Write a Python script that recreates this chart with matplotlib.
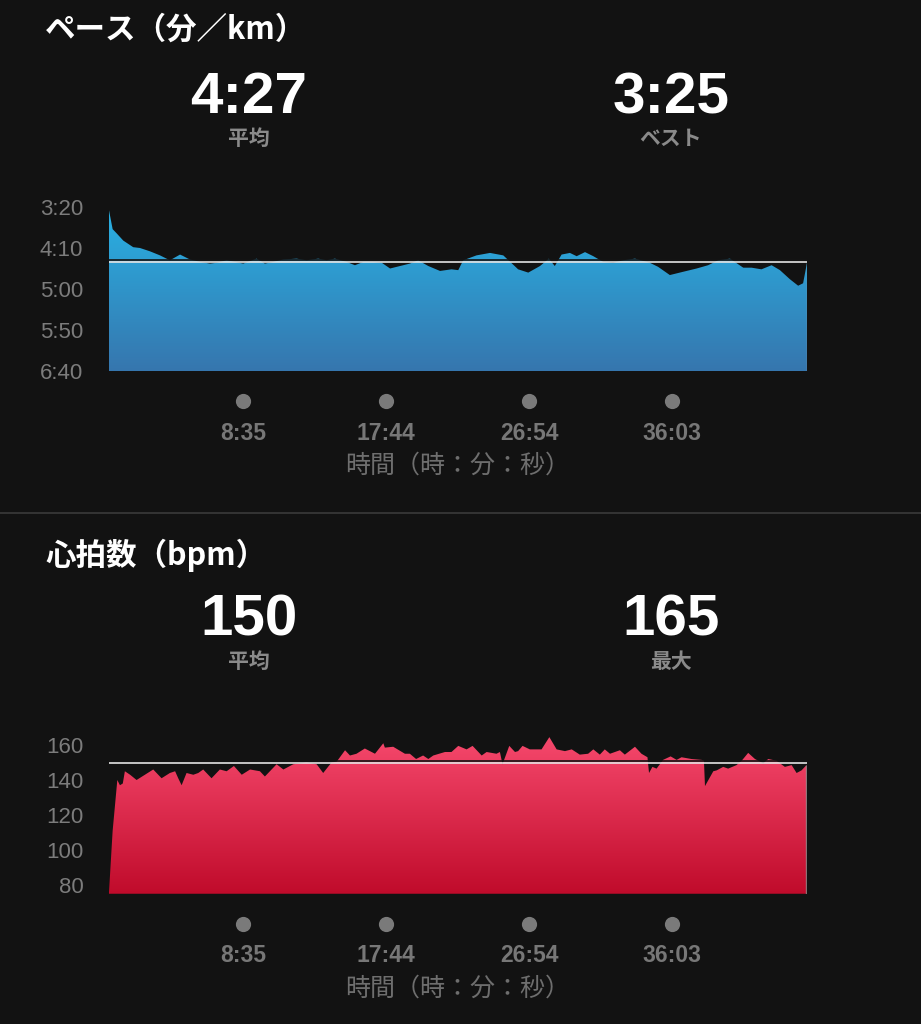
import numpy as np
import matplotlib
matplotlib.use("Agg")
import matplotlib.pyplot as plt
from matplotlib.colors import LinearSegmentedColormap
from matplotlib.lines import Line2D
import matplotlib.transforms as mtransforms

# ---- data (seconds from start) ----
pace_t = [0, 14, 29, 55, 93, 119, 157, 196, 234, 273,
          311, 350, 388, 414, 452, 516, 567, 599, 631, 670,
          721, 759, 804, 836, 868, 913, 945, 977, 1015, 1048,
          1080, 1118, 1156, 1188, 1227, 1272, 1316, 1342, 1361, 1412,
          1464, 1515, 1572, 1611, 1656, 1690, 1713, 1739, 1771, 1797,
          1829, 1861, 1899, 1937, 1976, 2021, 2078, 2110, 2155, 2206,
          2258, 2302, 2341, 2386, 2437, 2469, 2507, 2546, 2578, 2616,
          2648, 2667, 2682]
# pace in seconds per km
pace_s = [204, 227, 232, 241, 249, 250, 254, 259, 265, 258,
          264, 267, 269, 268, 265, 269, 263, 269, 267, 264,
          263, 265, 263, 265, 263, 267, 271, 267, 267, 268,
          275, 272, 269, 265, 272, 278, 276, 277, 265, 259,
          256, 259, 276, 280, 272, 263, 272, 258, 256, 260,
          255, 260, 267, 268, 265, 263, 268, 273, 283, 279,
          275, 271, 265, 263, 274, 274, 276, 271, 277, 288,
          296, 293, 268]

hr_t = [0, 14, 32, 42, 53, 61, 81, 106, 138, 170,
        202, 234, 254, 266, 279, 298, 324, 343, 362, 394,
        426, 452, 480, 510, 542, 580, 599, 644, 670, 708,
        759, 798, 823, 855, 875, 907, 926, 951, 983, 1022,
        1054, 1060, 1092, 1137, 1156, 1180, 1207, 1227, 1246, 1291,
        1316, 1342, 1374, 1397, 1432, 1451, 1489, 1502, 1512, 1538,
        1560, 1572, 1589, 1617, 1662, 1692, 1720, 1752, 1778, 1809,
        1841, 1861, 1886, 1905, 1925, 1963, 1982, 2021, 2046, 2069,
        2075, 2088, 2104, 2129, 2158, 2181, 2200, 2238, 2277, 2286,
        2290, 2322, 2335, 2360, 2379, 2411, 2431, 2456, 2482, 2514,
        2533, 2565, 2597, 2623, 2642, 2661, 2680]
hr_v = [76, 111, 140, 137, 138, 145, 143, 140, 143, 146,
        141, 144, 145, 141, 137, 144, 143, 144, 146, 141,
        146, 145, 148, 143, 146, 145, 142, 149, 146, 149,
        150, 149, 144, 150, 150.5, 157, 154, 155, 158, 155,
        161, 158.5, 159, 155, 155, 152, 154, 152, 154, 156,
        156, 159.5, 157.5, 159.5, 154, 156, 155, 156, 149, 159.5,
        156, 156.5, 159.5, 157.5, 157.5, 164.5, 157.5, 156.5, 157.5, 154.5,
        155, 157.5, 154.5, 157.5, 155, 157, 154.5, 159, 155, 153,
        144, 147.5, 146.5, 151.5, 153.5, 151.5, 153, 152, 151.5, 151,
        136.5, 145, 145.5, 147.5, 146.5, 148.5, 151, 155.5, 152, 149.5,
        152, 151, 147.5, 148.5, 144, 145.5, 148.5]

pace_avg, pace_best = 267, 205
hr_avg, hr_max = 150, 165
pace_yticks = [200, 250, 300, 350, 400]
pace_ylabels = ["3:20", "4:10", "5:00", "5:50", "6:40"]
hr_yticks = [80, 100, 120, 140, 160]
time_ticks = [515, 1064, 1614, 2163]
time_labels = ["8:35", "17:44", "26:54", "36:03"]

W, H = 921, 1024
BG = "#121212"
JP = ["Noto Sans CJK JP", "DejaVu Sans"]
NUM = ["Liberation Sans", "DejaVu Sans"]

fig = plt.figure(figsize=(W / 100, H / 100), dpi=100, facecolor=BG)


def fx(x):
    return x / W


def fy(y):
    return 1 - y / H


def gradient_area(ax, x, y, base, y_lo, y_hi, top_c, bot_c):
    poly = ax.fill_between(x, y, base, color="none", lw=0)
    cmap = LinearSegmentedColormap.from_list("g", [bot_c, top_c])
    grad = np.linspace(0, 1, 256).reshape(-1, 1)
    im = ax.imshow(grad, cmap=cmap, aspect="auto", origin="lower",
                   extent=[x[0], x[-1], y_lo, y_hi], interpolation="bicubic", zorder=1)
    im.set_clip_path(poly.get_paths()[0], ax.transData)
    # light edge at the end of the series
    ax.vlines(x[-1], y[-1], base, color="#9a9a9a", lw=1, alpha=0.7, zorder=2)


def style_axis(ax, yticks, ylabels):
    ax.set_facecolor("none")
    for s in ax.spines.values():
        s.set_visible(False)
    ax.set_yticks(yticks, ylabels)
    ax.set_xticks([])
    ax.tick_params(axis="y", length=0, pad=18.5, labelsize=16, labelcolor="#7c7c7c")
    for lab in ax.get_yticklabels():
        lab.set_fontfamily(NUM)


def avg_line(ax, value, x0, x1):
    shadow = mtransforms.offset_copy(ax.transData, fig=fig, x=0, y=2, units="dots")
    ax.plot([x0, x1], [value, value], color="#141414", lw=1.2, zorder=3, transform=shadow)
    ax.plot([x0, x1], [value, value], color="#e4e4e4", lw=1.2, zorder=4)


def time_axis(ax, height_px):
    tr = ax.get_xaxis_transform()
    ax.scatter(time_ticks, [-30 / height_px] * len(time_ticks), s=120, color="#7a7a7a",
               transform=tr, clip_on=False, zorder=5, linewidths=0)
    for t, lab in zip(time_ticks, time_labels):
        ax.text(t, -62 / height_px, lab, transform=tr, ha="center", va="center",
                fontsize=16.5, fontweight="bold", color="#777777", family=NUM)
    ax.text(0.5, -95 / height_px, "時間（時：分：秒）", transform=ax.transAxes,
            ha="center", va="center", fontsize=18, color="#6e6e6e", family=JP)


def header(title, ytitle, avg_txt, other_txt, other_lab, ynum, ylab):
    fig.text(fx(45), fy(ytitle), title, ha="left", va="center", fontsize=22,
             fontweight="bold", color="white", family=JP)
    fig.text(fx(249), fy(ynum), avg_txt, ha="center", va="center", fontsize=42,
             fontweight="bold", color="white", family=NUM)
    fig.text(fx(671), fy(ynum), other_txt, ha="center", va="center", fontsize=42,
             fontweight="bold", color="white", family=NUM)
    fig.text(fx(249), fy(ylab), "平均", ha="center", va="center", fontsize=15,
             fontweight="bold", color="#8a8a8a", family=JP)
    fig.text(fx(671), fy(ylab), other_lab, ha="center", va="center", fontsize=15,
             fontweight="bold", color="#8a8a8a", family=JP)


def fmt_pace(s):
    return f"{s // 60}:{s % 60:02d}"


# ---- pace panel ----
pace_h = 164
ax1 = fig.add_axes([fx(109), fy(371), 698 / W, pace_h / H])
gradient_area(ax1, pace_t, pace_s, pace_yticks[-1], pace_yticks[-1], pace_yticks[0],
              "#29b2e4", "#3676ae")
ax1.set_xlim(pace_t[0], pace_t[-1])
ax1.set_ylim(pace_yticks[-1], pace_yticks[0])
style_axis(ax1, pace_yticks, pace_ylabels)
avg_line(ax1, pace_avg, pace_t[0], pace_t[-1])
time_axis(ax1, pace_h)
header("ペース（分／km）", 30, fmt_pace(pace_avg), fmt_pace(pace_best), "ベスト", 98, 138)

# separator
fig.add_artist(Line2D([0, 1], [fy(513), fy(513)], transform=fig.transFigure,
                      color="#3a3a3a", lw=1.2))

# ---- heart rate panel ----
hr_lo, hr_hi = 75, 165
hr_h = 157.5
ax2 = fig.add_axes([fx(109), fy(893.75), 698 / W, hr_h / H])
gradient_area(ax2, hr_t, hr_v, hr_lo, hr_lo, hr_hi, "#f6496d", "#c00b2b")
ax2.set_xlim(hr_t[0], pace_t[-1])
ax2.set_ylim(hr_lo, hr_hi)
style_axis(ax2, hr_yticks, [str(v) for v in hr_yticks])
avg_line(ax2, hr_avg, hr_t[0], pace_t[-1])
time_axis(ax2, hr_h)
header("心拍数（bpm）", 555, str(hr_avg), str(hr_max), "最大", 620, 661)

fig.savefig("out.png", dpi=100, facecolor=BG)
